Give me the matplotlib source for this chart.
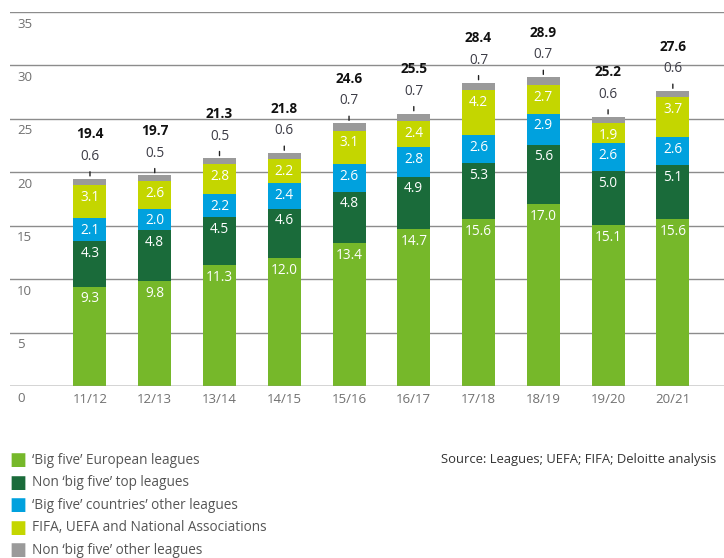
import matplotlib.pyplot as plt
import numpy as np

plt.rcParams['font.family'] = ['Open Sans', 'DejaVu Sans']

seasons = ['11/12', '12/13', '13/14', '14/15', '15/16', '16/17', '17/18', '18/19', '19/20', '20/21']
big_five = [9.3, 9.8, 11.3, 12.0, 13.4, 14.7, 15.6, 17.0, 15.1, 15.6]
non_big_top = [4.3, 4.8, 4.5, 4.6, 4.8, 4.9, 5.3, 5.6, 5.0, 5.1]
big_other = [2.1, 2.0, 2.2, 2.4, 2.6, 2.8, 2.6, 2.9, 2.6, 2.6]
fifa = [3.1, 2.6, 2.8, 2.2, 3.1, 2.4, 4.2, 2.7, 1.9, 3.7]
non_big_other = [0.6, 0.5, 0.5, 0.6, 0.7, 0.7, 0.7, 0.7, 0.6, 0.6]
totals = [19.4, 19.7, 21.3, 21.8, 24.6, 25.5, 28.4, 28.9, 25.2, 27.6]

series = [big_five, non_big_top, big_other, fifa, non_big_other]
names = ["\u2018Big five\u2019 European leagues",
         "Non \u2018big five\u2019 top leagues",
         "\u2018Big five\u2019 countries\u2019 other leagues",
         "FIFA, UEFA and National Associations",
         "Non \u2018big five\u2019 other leagues"]
colors = ['#76b82a', '#1a6b3a', '#00a1de', '#c4d600', '#9a9a9a']

fig = plt.figure(figsize=(7.24, 5.58), dpi=100)
ax = fig.add_axes([10/724, 1-386/558, 714/724, 374/558])

x = np.arange(len(seasons))
w = 0.51
bottom = np.zeros(len(seasons))
for i, (vals, c) in enumerate(zip(series, colors)):
    vals = np.array(vals)
    ax.bar(x, vals, w, bottom=bottom, color=c, zorder=3)
    if i < 4:
        for xi, b, v in zip(x, bottom, vals):
            ax.annotate(f'{v:.1f}', (xi, b + v), xytext=(0, -3.5), textcoords='offset points',
                        ha='center', va='top', color='white', fontsize=9.8)
    bottom = bottom + vals

for xi, top, v, t in zip(x, bottom, non_big_other, totals):
    ax.annotate('', (xi, top), xytext=(0, 7), textcoords='offset points',
                arrowprops=dict(arrowstyle='-', color='#222222', lw=1))
    ax.annotate(f'{v:.1f}', (xi, top), xytext=(0, 16), textcoords='offset points',
                ha='center', va='center', color='#3c3c46', fontsize=9.8)
    ax.annotate(f'{t:.1f}', (xi, top), xytext=(0, 32), textcoords='offset points',
                ha='center', va='center', color='#111111', fontsize=9.8, fontweight='bold')

ax.set_xlim(-1.235, 9.79)
ax.set_ylim(0, 35)
ax.set_yticks(np.arange(0, 36, 5))
ax.yaxis.grid(True, color='#8c8c8c', lw=1, zorder=0)
ax.set_yticklabels([])
ax.tick_params(length=0)
for s in ax.spines.values():
    s.set_visible(False)
ax.axhline(0, color='#8c8c8c', lw=1, zorder=4)
for yv in range(0, 36, 5):
    ax.annotate(str(yv), (0, yv), xycoords=('axes fraction', 'data'), xytext=(5, -4),
                textcoords='offset points', ha='left', va='top', color='#707070', fontsize=9.5)

ax.set_xticks(x)
ax.set_xticklabels(seasons, color='#707070', fontsize=9.5)
ax.tick_params(axis='x', pad=5)

for i, (n, c) in enumerate(zip(names, colors)):
    yy = 1 - (460 + i * 22.6) / 558
    fig.text(9/724, yy, '\u25a0', color=c, fontsize=13, va='center', ha='left')
    fig.text(32/724, yy, n, color='#555555', fontsize=9.8, va='center', ha='left')

fig.text(441/724, 1 - 460/558, 'Source: Leagues; UEFA; FIFA; Deloitte analysis',
         color='#333333', fontsize=9.4, va='center', ha='left')

fig.savefig('out.png', dpi=100)
